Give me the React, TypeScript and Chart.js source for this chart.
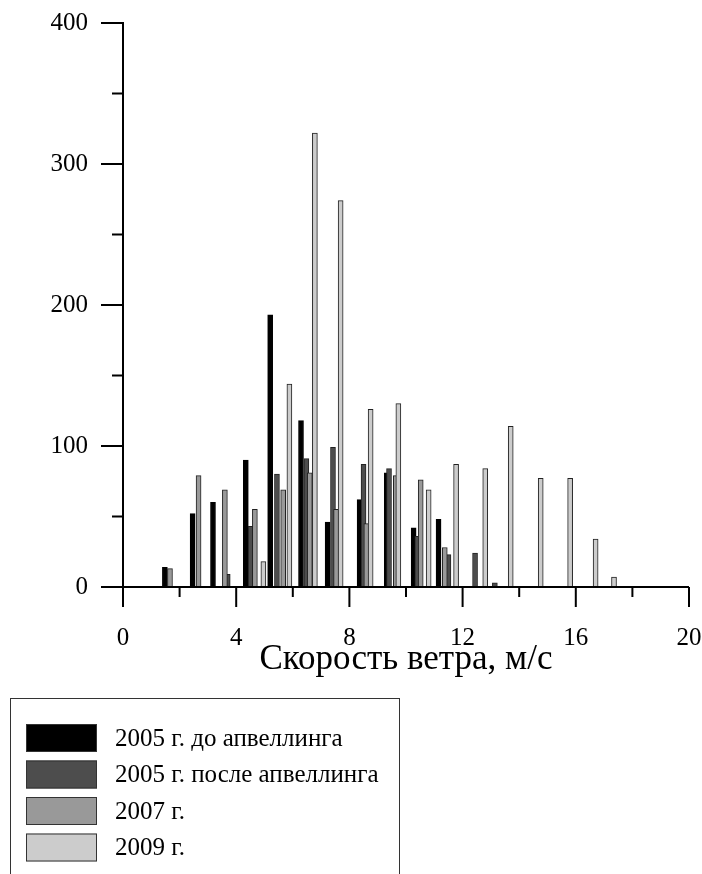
import React, { useEffect, useRef } from 'react';
import { Chart, registerables } from 'chart.js';

Chart.register(...registerables);

const FONT = '"Liberation Serif", "Times New Roman", serif';

// Wind speed (m/s) and frequency for each observation period
const before2005X = [1.48, 2.46, 3.18, 4.34, 5.2, 6.29, 7.23, 8.36, 9.32, 10.27, 11.15];
const before2005Y = [14, 52, 60, 90, 193, 118, 46, 62, 81, 42, 48];

const after2005X = [3.7, 4.51, 5.44, 6.48, 7.42, 8.5, 9.4, 10.4, 11.5, 12.44, 13.14];
const after2005Y = [9, 43, 80, 91, 99, 87, 84, 36, 23, 24, 3];

const year2007X = [1.66, 2.67, 3.6, 4.66, 5.66, 6.6, 7.53, 8.6, 9.64, 10.52, 11.37];
const year2007Y = [13, 79, 69, 55, 69, 81, 55, 45, 79, 76, 28];

const year2009X = [4.96, 5.88, 6.78, 7.69, 8.75, 9.73, 10.8, 11.77, 12.8, 13.7, 14.76, 15.8, 16.7, 17.35];
const year2009Y = [18, 144, 322, 274, 126, 130, 69, 87, 84, 114, 77, 77, 34, 7];

const seriesLabels = ['2005 г. до апвеллинга', '2005 г. после апвеллинга', '2007 г.', '2009 г.'];
const seriesColors = ['#000000', '#4d4d4d', '#999999', '#cccccc'];

const xTitle = 'Скорость ветра, м/с';
const xMax = 20;
const xStep = 4;
const xMinorStep = 2;
const yMax = 400;
const yStep = 100;
const yMinorStep = 50;

const toPoints = (xs: number[], ys: number[]) => xs.map((x, i) => ({ x, y: ys[i] }));

// Axis lines with long major and short minor tick marks
const axesPlugin = {
  id: 'frameAxes',
  afterDatasetsDraw(chart: any) {
    const { ctx, scales } = chart;
    const x = scales.x;
    const y = scales.y;
    const x0 = x.getPixelForValue(0);
    const y0 = y.getPixelForValue(0);
    ctx.save();
    ctx.strokeStyle = '#000';
    ctx.lineWidth = 2;
    ctx.beginPath();
    ctx.moveTo(x.getPixelForValue(xMax), y0);
    ctx.lineTo(x0, y0);
    ctx.moveTo(x0, y.getPixelForValue(yMax) - 1);
    ctx.lineTo(x0, y0 + 1);
    for (let v = 0; v <= xMax; v += xMinorStep) {
      const px = x.getPixelForValue(v);
      ctx.moveTo(px, y0);
      ctx.lineTo(px, y0 + (v % xStep === 0 ? 20 : 10));
    }
    for (let v = 0; v <= yMax; v += yMinorStep) {
      const py = y.getPixelForValue(v);
      ctx.moveTo(x0, py);
      ctx.lineTo(x0 - (v % yStep === 0 ? 22 : 11), py);
    }
    ctx.stroke();
    ctx.restore();
  },
};

// Boxed legend below the axis title
const legendPlugin = {
  id: 'boxLegend',
  afterDraw(chart: any) {
    const { ctx } = chart;
    ctx.save();
    ctx.strokeStyle = '#333';
    ctx.lineWidth = 1;
    ctx.strokeRect(10.5, 698.5, 389, 200);
    ctx.font = `25px ${FONT}`;
    ctx.textBaseline = 'middle';
    ctx.textAlign = 'left';
    seriesLabels.forEach((label, i) => {
      const top = 724 + i * 36.5;
      ctx.fillStyle = seriesColors[i];
      ctx.fillRect(26, top, 71, 28);
      ctx.strokeStyle = '#333';
      ctx.strokeRect(26.5, top + 0.5, 70, 27);
      ctx.fillStyle = '#000';
      ctx.fillText(label, 115, top + 15);
    });
    ctx.restore();
  },
};

export default function App() {
  const canvasRef = useRef<HTMLCanvasElement | null>(null);

  useEffect(() => {
    const canvas = canvasRef.current;
    if (!canvas) return;
    const sets = [
      toPoints(before2005X, before2005Y),
      toPoints(after2005X, after2005Y),
      toPoints(year2007X, year2007Y),
      toPoints(year2009X, year2009Y),
    ];
    const chart = new Chart(canvas, {
      type: 'bar',
      data: {
        datasets: sets.map((data, i) => ({
          label: seriesLabels[i],
          data,
          backgroundColor: seriesColors[i],
          borderColor: i === 0 ? '#000' : '#222',
          borderWidth: 1,
          barThickness: 5,
          grouped: false,
          order: 4 - i,
        })),
      },
      options: {
        responsive: false,
        animation: false,
        events: [],
        layout: { padding: { left: 0, top: 23, right: 13, bottom: 0 } },
        plugins: {
          legend: { display: false },
          tooltip: { enabled: false },
        },
        scales: {
          x: {
            type: 'linear',
            min: 0,
            max: xMax,
            offset: false,
            grid: { display: false, drawTicks: false },
            border: { display: false },
            ticks: {
              stepSize: xStep,
              padding: 36,
              color: '#000',
              font: { family: FONT, size: 25 },
              maxRotation: 0,
            },
            title: {
              display: true,
              text: xTitle,
              color: '#000',
              font: { family: FONT, size: 35 },
              padding: { top: 0, bottom: 193 },
            },
            afterFit(scale: any) {
              scale.height = 287;
              scale.paddingLeft = 0;
              scale.paddingRight = 0;
            },
          },
          y: {
            type: 'linear',
            min: 0,
            max: yMax,
            grid: { display: false, drawTicks: false },
            border: { display: false },
            ticks: {
              stepSize: yStep,
              padding: 35,
              color: '#000',
              font: { family: FONT, size: 25 },
            },
            afterFit(scale: any) {
              scale.width = 123;
              scale.paddingTop = 0;
              scale.paddingBottom = 0;
            },
          },
        },
      },
      plugins: [axesPlugin, legendPlugin],
    });
    return () => chart.destroy();
  }, []);

  return (
    <div style={{ position: 'absolute', left: 0, top: 0, width: 702, height: 874, background: '#fff' }}>
      <canvas ref={canvasRef} width={702} height={874} />
    </div>
  );
}
